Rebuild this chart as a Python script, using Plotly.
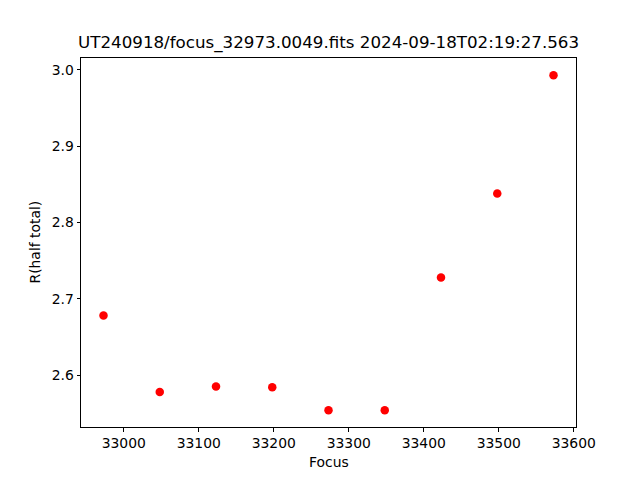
import plotly.graph_objects as go

focus = [32973, 33048, 33123, 33198, 33273, 33348, 33423, 33498, 33573]
r_half = [2.678, 2.578, 2.585, 2.584, 2.554, 2.554, 2.728, 2.838, 2.993]
title = "UT240918/focus_32973.0049.fits 2024-09-18T02:19:27.563"

fig = go.Figure(go.Scatter(x=focus, y=r_half, mode="markers",
                           marker=dict(color="red", size=8.5)))

axis_common = dict(showgrid=False, zeroline=False, showline=True, linecolor="black",
                   linewidth=1, mirror=True, ticks="outside", ticklen=3.5,
                   tickwidth=1, tickcolor="black", automargin=False,
                   tickfont=dict(family="DejaVu Sans", size=13.9, color="black"))

font_lbl = dict(family="DejaVu Sans", size=13.9, color="black")

fig.update_layout(
    width=640, height=480,
    margin=dict(l=81, r=64, t=58, b=53),
    paper_bgcolor="white", plot_bgcolor="white",
    showlegend=False,
    font=font_lbl,
    xaxis=dict(range=[32943, 33603], dtick=100, tickformat="d", **axis_common),
    yaxis=dict(range=[2.532, 3.0155], dtick=0.1, tickformat=".1f", **axis_common),
    annotations=[
        dict(text=title, x=0.5, y=1, xref="paper", yref="paper",
             xanchor="center", yanchor="bottom", yshift=3, showarrow=False,
             font=dict(family="DejaVu Sans", size=16.7, color="black")),
        dict(text="Focus", x=0.5, y=0, xref="paper", yref="paper",
             xanchor="center", yanchor="top", yshift=-25, showarrow=False,
             font=font_lbl),
        dict(text="R(half total)", x=0, y=0.5, xref="paper", yref="paper",
             xanchor="right", yanchor="middle", xshift=-37, textangle=-90,
             showarrow=False, font=font_lbl),
    ],
)

fig.write_html("out.html", config={"displayModeBar": False},
               post_script="document.body.style.margin='0';")
